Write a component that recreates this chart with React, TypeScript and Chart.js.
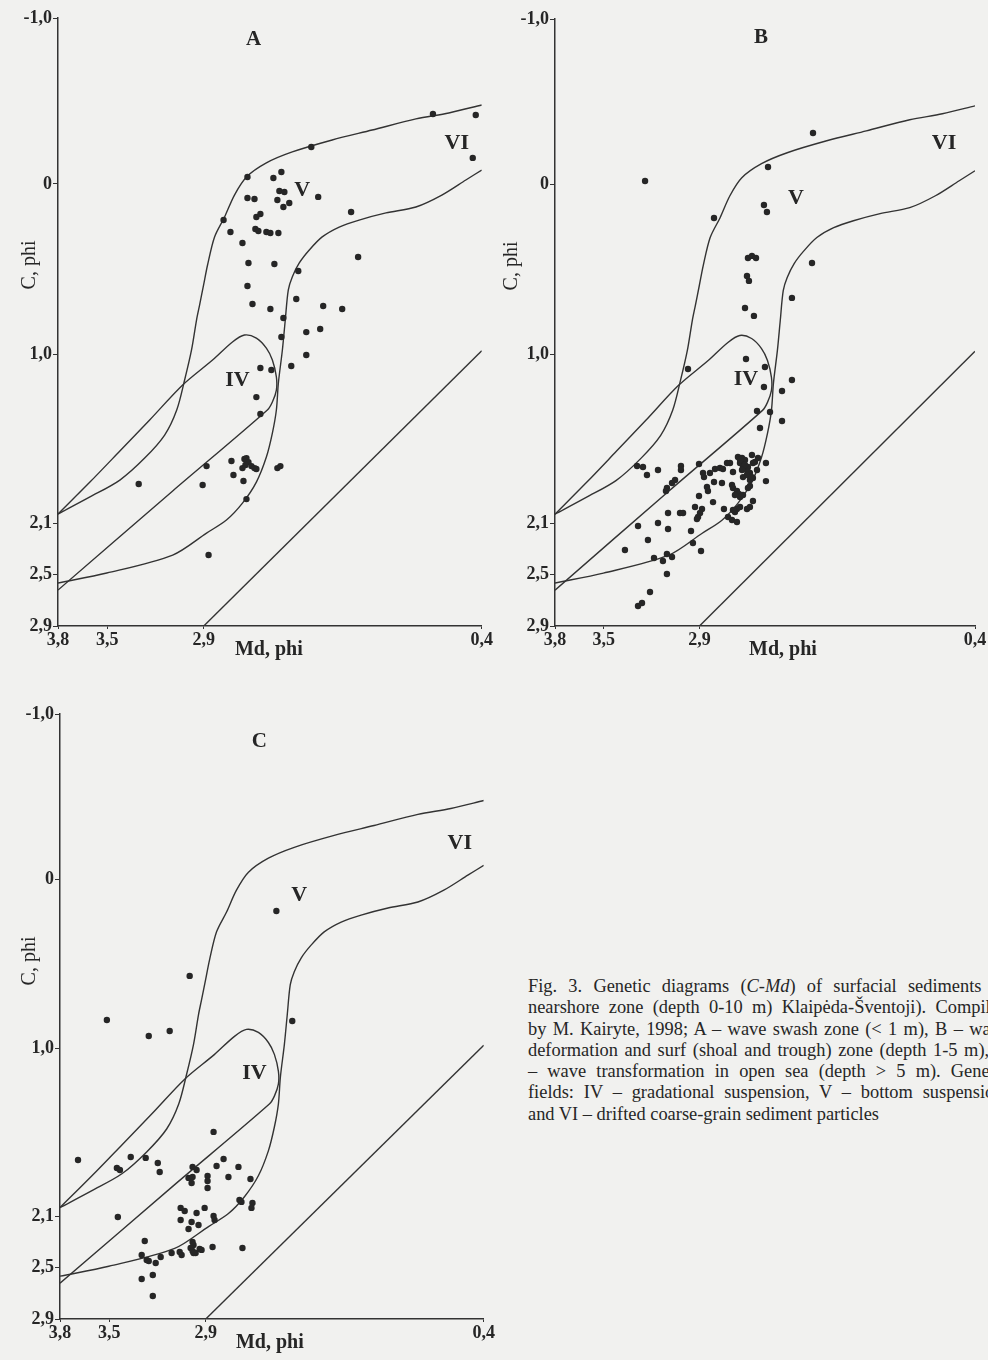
import React, { useEffect, useRef } from 'react';
import { Chart, registerables, LinearScale } from 'chart.js';

Chart.register(...registerables);

// ---------- axis ticks (phi) ----------
const X_TICKS = [3.8, 3.5, 2.9, 0.4];
const Y_TICKS = [-1.0, 0, 1.0, 2.1, 2.5, 2.9];
// relative placement of each printed tick along its (non-uniform) axis
const X_STOPS = [0, 0.116, 0.344, 1];
const Y_STOPS = [0, 0.273, 0.553, 0.831, 0.915, 1];

// ---------- genetic field boundaries [Md, C] ----------
const upperBoundary: [number, number][] = [
  [3.8, 2.04], [3.605, 1.929], [3.421, 1.819], [3.267, 1.676], [3.143, 1.526], [3.068, 1.363],
  [3.019, 1.168], [2.976, 0.975], [2.945, 0.799], [2.926, 0.711], [2.901, 0.593], [2.866, 0.476],
  [2.803, 0.311], [2.713, 0.194], [2.624, 0.065], [2.516, -0.042], [2.337, -0.127], [2.104, -0.193],
  [1.745, -0.265], [1.386, -0.325], [0.992, -0.392], [0.696, -0.428], [0.4, -0.476],
];
const lowerBoundary: [number, number][] = [
  [3.8, 2.567], [3.502, 2.49], [3.093, 2.349], [2.875, 2.177], [2.696, 2.079], [2.552, 1.969],
  [2.427, 1.832], [2.337, 1.669], [2.283, 1.513], [2.247, 1.363], [2.229, 1.187], [2.193, 0.975],
  [2.167, 0.799], [2.14, 0.623], [2.104, 0.546], [2.041, 0.464], [1.951, 0.388], [1.835, 0.311],
  [1.682, 0.253], [1.503, 0.212], [1.261, 0.17], [0.992, 0.135], [0.759, 0.065], [0.543, -0.024], [0.4, -0.084],
];
const fieldIV: [number, number][] = [
  [3.8, 2.04], [3.605, 1.832], [3.421, 1.63], [3.236, 1.428], [3.031, 1.2], [2.821, 1.038],
  [2.642, 0.928], [2.534, 0.887], [2.427, 0.905], [2.337, 0.964], [2.283, 1.038], [2.247, 1.148],
  [2.247, 1.233], [2.283, 1.311], [2.328, 1.363], [3.093, 1.89], [3.8, 2.622],
];
const diagonal: [number, number][] = [[2.9, 2.9], [0.4, 0.98]];

// ---------- samples [Md, C] ----------
const samplesA: [number, number][] = [
  [0.839, -0.422], [0.454, -0.416], [0.481, -0.157], [1.933, -0.223], [2.507, -0.042], [2.274, -0.036],
  [2.202, -0.072], [2.22, 0.041], [2.175, 0.047], [2.238, 0.094], [2.131, 0.112], [2.184, 0.135],
  [2.507, 0.082], [2.444, 0.088], [1.871, 0.076], [2.427, 0.194], [2.391, 0.176], [1.575, 0.165],
  [2.722, 0.212], [2.66, 0.282], [2.436, 0.264], [2.409, 0.276], [2.337, 0.282], [2.301, 0.288],
  [2.229, 0.288], [2.552, 0.347], [1.512, 0.429], [2.498, 0.464], [2.265, 0.47], [2.05, 0.511],
  [2.507, 0.599], [2.068, 0.676], [2.462, 0.705], [2.301, 0.734], [1.826, 0.717], [1.655, 0.734],
  [2.184, 0.787], [1.978, 0.87], [1.853, 0.852], [2.202, 0.899], [1.978, 1.005], [2.113, 1.077],
  [2.391, 1.09], [2.292, 1.103], [2.427, 1.279], [2.391, 1.389], [2.875, 1.728], [2.651, 1.695],
  [2.534, 1.682], [2.516, 1.676], [2.498, 1.702], [2.525, 1.721], [2.552, 1.741], [2.471, 1.728],
  [2.444, 1.741], [2.427, 1.747], [2.633, 1.786], [2.543, 1.825], [2.907, 1.851], [3.304, 1.845],
  [2.238, 1.741], [2.211, 1.728], [2.516, 1.943], [2.857, 2.349],
];
const samplesB: [number, number][] = [
  [1.87, -0.312], [2.278, -0.107], [3.241, -0.022], [2.768, 0.196], [2.315, 0.119], [2.288, 0.161],
  [2.46, 0.431], [2.424, 0.419], [2.387, 0.431], [2.469, 0.537], [2.451, 0.566], [1.879, 0.461],
  [2.061, 0.666], [2.487, 0.725], [2.406, 0.772], [2.972, 1.093], [2.478, 1.028], [2.306, 1.08],
  [2.315, 1.211], [2.061, 1.165], [2.151, 1.237], [2.378, 1.367], [2.26, 1.374], [2.151, 1.432],
  [2.351, 1.478], [3.291, 1.726], [3.254, 1.732], [3.229, 1.784], [3.16, 1.752], [3.016, 1.726],
  [3.016, 1.752], [2.903, 1.713], [2.868, 1.771], [2.859, 1.798], [2.805, 1.771], [2.759, 1.745],
  [2.714, 1.739], [2.687, 1.745], [2.65, 1.706], [2.623, 1.706], [2.596, 1.765], [2.551, 1.667],
  [2.514, 1.674], [2.487, 1.687], [2.532, 1.706], [2.505, 1.732], [2.469, 1.752], [2.442, 1.771],
  [2.46, 1.732], [2.424, 1.654], [2.397, 1.7], [2.378, 1.752], [2.369, 1.674], [2.415, 1.804],
  [2.505, 1.798], [2.442, 1.817], [2.297, 1.706], [2.297, 1.824], [2.532, 1.687], [2.487, 1.719],
  [2.46, 1.765], [2.415, 1.706], [2.514, 1.752], [2.469, 1.784], [2.424, 1.798], [2.768, 1.83],
  [2.696, 1.837], [3.053, 1.817], [3.072, 1.837], [3.104, 1.869], [3.11, 1.889], [2.832, 1.863],
  [2.823, 1.889], [2.605, 1.85], [2.596, 1.869], [2.56, 1.889], [2.542, 1.908], [2.532, 1.928],
  [2.578, 1.915], [2.442, 1.856], [2.46, 1.869], [2.505, 1.915], [2.903, 1.921], [2.777, 1.961],
  [2.415, 1.954], [2.532, 1.993], [2.56, 2.006], [2.578, 2.026], [2.596, 2.013], [2.928, 1.993],
  [2.877, 2.006], [2.895, 2.032], [2.909, 2.058], [2.916, 2.071], [3.097, 2.032], [3.022, 2.032],
  [3.003, 2.032], [2.678, 2.006], [2.469, 2.006], [2.442, 1.993], [2.641, 2.058], [2.605, 2.078],
  [2.56, 2.091], [3.285, 2.12], [3.16, 2.097], [3.097, 2.144], [2.953, 2.16], [3.223, 2.23],
  [2.941, 2.254], [3.367, 2.309], [2.886, 2.316], [3.185, 2.371], [3.129, 2.395], [3.104, 2.34],
  [3.072, 2.363], [3.104, 2.497], [3.21, 2.636], [3.285, 2.745], [3.26, 2.722],
];
const samplesC: [number, number][] = [
  [2.265, 0.188], [3.0, 0.571], [3.514, 0.831], [3.254, 0.926], [3.124, 0.896], [2.122, 0.837],
  [3.69, 1.729], [3.452, 1.781], [3.433, 1.794], [3.366, 1.709], [3.273, 1.715], [3.198, 1.748],
  [3.186, 1.807], [2.83, 1.545], [2.982, 1.774], [2.957, 1.794], [3.007, 1.846], [2.982, 1.84],
  [2.988, 1.879], [2.884, 1.833], [2.884, 1.866], [2.884, 1.912], [2.803, 1.768], [2.74, 1.722],
  [2.696, 1.84], [2.606, 1.774], [2.498, 1.853], [3.446, 2.102], [3.056, 2.042], [3.031, 2.062],
  [2.907, 2.042], [2.957, 2.075], [3.056, 2.125], [2.988, 2.141], [2.945, 2.165], [3.007, 2.196],
  [2.83, 2.095], [2.821, 2.125], [2.597, 1.99], [2.579, 2.003], [2.48, 2.01], [2.489, 2.042],
  [3.279, 2.291], [2.982, 2.298], [2.976, 2.322], [3.298, 2.401], [3.267, 2.44], [3.254, 2.448],
  [3.211, 2.464], [3.18, 2.417], [3.112, 2.385], [3.062, 2.377], [3.05, 2.401], [2.994, 2.346],
  [2.982, 2.369], [2.963, 2.385], [2.938, 2.354], [2.926, 2.361], [2.976, 2.385], [2.839, 2.338],
  [2.57, 2.346], [3.298, 2.589], [3.229, 2.558], [3.229, 2.721],
];

// ---------- styling ----------
const SERIF = "'Liberation Serif', 'Times New Roman', serif";
const INK = '#262626';
const LINE = '#333333';
const PAPER = '#f1f1ef';

function pw(v: number, from: number[], to: number[]): number {
  const n = from.length;
  const inc = from[n - 1] > from[0];
  let i = 0;
  for (i = 0; i < n - 2; i++) {
    if (inc ? v <= from[i + 1] : v >= from[i + 1]) break;
  }
  const t = (v - from[i]) / (from[i + 1] - from[i]);
  return to[i] + t * (to[i + 1] - to[i]);
}

class PiecewiseScale extends LinearScale {
  static id = 'piecewise';
  getPixelForValue(value: any) {
    if (value === null || value === undefined || isNaN(value)) return NaN;
    const h = this.isHorizontal();
    const f = h ? pw(+value, X_TICKS, X_STOPS) : pw(+value, Y_TICKS, Y_STOPS);
    return h ? this.left + f * this.width : this.top + f * this.height;
  }
  getValueForPixel(pixel: number) {
    const h = this.isHorizontal();
    const f = h ? (pixel - this.left) / this.width : (pixel - this.top) / this.height;
    return h ? pw(f, X_STOPS, X_TICKS) : pw(f, Y_STOPS, Y_TICKS);
  }
}
Chart.register(PiecewiseScale as any);

const fmt = (v: any) => (Number(v) === 0 ? '0' : Number(v).toFixed(1).replace('.', ','));

type Label = { text: string; md: number; c: number; size: number };
type PanelCfg = {
  key: string; left: number; top: number; w: number; h: number; yW: number;
  pad: { top: number; right: number; bottom: number; left: number };
  yTitleOff: number; xTitleDx: number; samples: [number, number][]; labels: Label[];
};

const PANELS: PanelCfg[] = [
  {
    key: 'A', left: 0, top: 0, w: 494, h: 660, yW: 58,
    pad: { top: 18, right: 11, bottom: 8, left: 0 }, yTitleOff: 28, xTitleDx: -1, samples: samplesA,
    labels: [
      { text: 'A', md: 2.453, c: -0.867, size: 21 },
      { text: 'V', md: 2.014, c: 0.035, size: 22 },
      { text: 'VI', md: 0.624, c: -0.247, size: 22 },
      { text: 'IV', md: 2.597, c: 1.168, size: 22 },
    ],
  },
  {
    key: 'B', left: 494, top: 0, w: 494, h: 660, yW: 61,
    pad: { top: 19, right: 13, bottom: 8, left: 0 }, yTitleOff: 43, xTitleDx: 18, samples: samplesB,
    labels: [
      { text: 'B', md: 2.342, c: -0.885, size: 21 },
      { text: 'V', md: 2.024, c: 0.078, size: 22 },
      { text: 'VI', md: 0.681, c: -0.252, size: 22 },
      { text: 'IV', md: 2.478, c: 1.158, size: 22 },
    ],
  },
  {
    key: 'C', left: 0, top: 694, w: 496, h: 666, yW: 60,
    pad: { top: 20, right: 11, bottom: 15, left: 0 }, yTitleOff: 30, xTitleDx: -2, samples: samplesC,
    labels: [
      { text: 'C', md: 2.418, c: -0.831, size: 21 },
      { text: 'V', md: 2.059, c: 0.093, size: 22 },
      { text: 'VI', md: 0.615, c: -0.219, size: 22 },
      { text: 'IV', md: 2.462, c: 1.16, size: 22 },
    ],
  },
];

const toXY = (arr: [number, number][]) => arr.map(([x, y]) => ({ x, y }));

function Panel({ cfg }: { cfg: PanelCfg }) {
  const ref = useRef<HTMLCanvasElement>(null);
  useEffect(() => {
    const tickFont = { family: SERIF, size: 18, weight: 'bold' as const };
    const curve = (d: [number, number][], tension: number) => ({
      data: toXY(d), showLine: true, pointRadius: 0, borderColor: LINE, borderWidth: 1.4,
      tension, fill: false, order: 2,
    });
    const textPlugin = {
      id: 'panelText' + cfg.key,
      afterDatasetsDraw(chart: any) {
        const { ctx, chartArea, scales } = chart;
        ctx.save();
        ctx.fillStyle = INK;
        ctx.textAlign = 'center';
        ctx.textBaseline = 'middle';
        for (const lb of cfg.labels) {
          ctx.font = `bold ${lb.size}px ${SERIF}`;
          ctx.fillText(lb.text, scales.x.getPixelForValue(lb.md), scales.y.getPixelForValue(lb.c));
        }
        ctx.font = `bold 20px ${SERIF}`;
        ctx.fillText('Md, phi', (chartArea.left + chartArea.right) / 2 + cfg.xTitleDx, chartArea.bottom + 24);
        ctx.translate(chartArea.left - cfg.yTitleOff, chartArea.top + 247);
        ctx.rotate(-Math.PI / 2);
        ctx.font = `20px ${SERIF}`;
        ctx.fillText('C, phi', 0, 0);
        ctx.restore();
      },
    };
    const chart = new Chart(ref.current as HTMLCanvasElement, {
      type: 'scatter',
      data: {
        datasets: [
          curve(upperBoundary, 0.3),
          curve(lowerBoundary, 0.3),
          curve(fieldIV, 0.3),
          curve(diagonal, 0),
          {
            data: toXY(cfg.samples), showLine: false, pointRadius: 3.2, pointHoverRadius: 3.2,
            pointBackgroundColor: INK, pointBorderWidth: 0, order: 1,
          } as any,
        ],
      },
      options: {
        responsive: false,
        animation: false,
        events: [],
        layout: { padding: cfg.pad },
        plugins: { legend: { display: false }, tooltip: { enabled: false } },
        scales: {
          x: {
            type: 'piecewise' as any, min: 0.4, max: 3.8, position: 'bottom',
            afterBuildTicks: (s: any) => { s.ticks = X_TICKS.map((v) => ({ value: v })); },
            afterFit: (s: any) => { s.height = 26; },
            ticks: { callback: fmt, font: tickFont, color: INK, autoSkip: false, maxRotation: 0, padding: 1 },
            grid: { drawOnChartArea: false, drawTicks: true, tickLength: 3, color: LINE, lineWidth: 1 },
            border: { display: true, color: LINE, width: 1.5 },
          } as any,
          y: {
            type: 'piecewise' as any, min: -1, max: 2.9, position: 'left',
            afterBuildTicks: (s: any) => { s.ticks = Y_TICKS.map((v) => ({ value: v })); },
            afterFit: (s: any) => { s.width = cfg.yW; },
            ticks: { callback: fmt, font: tickFont, color: INK, autoSkip: false, padding: 1 },
            grid: { drawOnChartArea: false, drawTicks: true, tickLength: 5, color: LINE, lineWidth: 1 },
            border: { display: true, color: LINE, width: 1.5 },
          } as any,
        },
      },
      plugins: [textPlugin],
    });
    return () => chart.destroy();
  }, [cfg]);
  return (
    <canvas
      ref={ref}
      width={cfg.w}
      height={cfg.h}
      style={{ position: 'absolute', left: cfg.left, top: cfg.top, width: cfg.w, height: cfg.h }}
    />
  );
}

const CAPTION_LINES: React.ReactNode[] = [
  <>Fig. 3. Genetic diagrams (<i>C-Md</i>) of surfacial sediments of</>,
  'nearshore zone (depth 0-10 m) Klaipėda-Šventoji). Compiled',
  'by M. Kairyte, 1998; A – wave swash zone (< 1 m), B – wave',
  'deformation and surf (shoal and trough) zone (depth 1-5 m), C',
  '– wave transformation in open sea (depth > 5 m). Genetic',
  'fields: IV – gradational suspension, V – bottom suspension,',
  'and VI – drifted coarse-grain sediment particles',
];

export default function App() {
  useEffect(() => {
    document.body.style.margin = '0';
    document.body.style.background = PAPER;
  }, []);
  return (
    <div
      style={{
        position: 'absolute', left: 0, top: 0, width: 988, height: 1360,
        overflow: 'hidden', background: PAPER,
      }}
    >
      {PANELS.map((p) => (
        <Panel key={p.key} cfg={p} />
      ))}
      <div
        style={{
          position: 'absolute', left: 528, top: 976, width: 480,
          fontFamily: SERIF, fontSize: 18.4, lineHeight: '21.3px', color: INK,
        }}
      >
        {CAPTION_LINES.map((ln, i) => (
          <div
            key={i}
            style={{
              whiteSpace: 'nowrap', textAlign: 'justify',
              textAlignLast: i === CAPTION_LINES.length - 1 ? 'left' : 'justify',
            } as any}
          >
            {ln}
          </div>
        ))}
      </div>
    </div>
  );
}
